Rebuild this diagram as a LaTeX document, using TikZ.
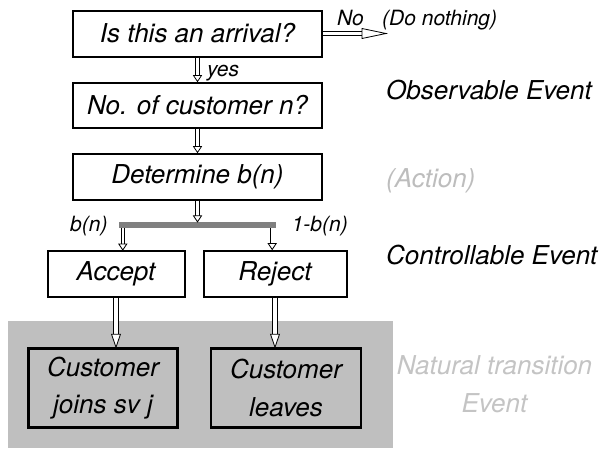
\documentclass[tikz,border=0pt]{standalone}
\usepackage{fontspec}
\setmainfont{TeX Gyre Heros}
\usetikzlibrary{calc}
\definecolor{bggray}{HTML}{BFBFBF}
\definecolor{bargray}{HTML}{808080}
\definecolor{lightlbl}{HTML}{BDBDBD}
\definecolor{natgray}{HTML}{C4C4C4}
\newcommand{\bigfont}{\fontsize{26}{37.5}\selectfont\itshape}
\newcommand{\smallfont}{\fontsize{21}{25}\selectfont\itshape}
\newcommand{\harrow}[5]{%
  \path ($(#2)!#4!(#1)$) coordinate (hb);
  \draw[hshaft, double distance=#3] (#1) -- (hb);
  \draw[hhead] (#2) -- ($(hb)!#5!90:(#2)$) -- ($(hb)!#5!-90:(#2)$) -- cycle;
}
\begin{document}
\begin{tikzpicture}[x=1pt, y=-1pt,
  hshaft/.style={line width=0.8pt, draw=black, double=white},
  hhead/.style={line width=0.8pt, draw=black, fill=white, line join=miter},
  box/.style={draw, line width=2pt, inner sep=0pt, font=\bigfont, align=center},
  cbox/.style={box, line width=2.6pt},
  big/.style={font=\bigfont, inner sep=0pt},
  small/.style={font=\smallfont, inner sep=0pt}]
\useasboundingbox (0,0) rectangle (606,450);
% background for natural transitions
\fill[bggray] (8,321) rectangle (393,448);
% main boxes
\node[box, minimum width=249pt, minimum height=46pt] (b1) at (197.5,33.5) {Is this an arrival?};
\node[box, minimum width=249pt, minimum height=45pt] (b2) at (197.5,105) {No. of customer n?};
\node[box, minimum width=249pt, minimum height=46pt] (b3) at (197.5,176.5) {Determine b(n)};
\node[fill=bargray, minimum width=157pt, minimum height=6pt, inner sep=0pt] (bar) at (197.5,225) {};
\node[box, minimum width=137pt, minimum height=46pt] (acc) at (116,274) {Accept};
\node[box, minimum width=143pt, minimum height=46pt] (rej) at (275,273.5) {Reject};
\node[cbox, minimum width=149pt, minimum height=79pt] (join) at (103,388) {Customer\\joins sv j};
\node[cbox, minimum width=150pt, minimum height=79pt] (leave) at (286,388) {Customer\\leaves};
% labels
\node[small, anchor=base west] (nolbl) at (337,25) {No};
\node[small, anchor=base west] (dolbl) at (382,25) {(Do nothing)};
\node[small, anchor=base west] (yes) at (207,76) {yes};
\node[small, anchor=base west] (bn) at (70,231) {b(n)};
\node[small, anchor=base east] (obn) at (348,231) {1-b(n)};
\node[big, anchor=base west] (obs) at (386,99) {Observable Event};
\node[big, anchor=base west, text=lightlbl] (act) at (386,187) {(Action)};
\node[big, anchor=base west] (ctl) at (386,264) {Controllable Event};
\node[big, align=center, text=natgray] (nat) at (494.5,384) {Natural transition\\Event};
% connector end points
\coordinate (noend) at ([xshift=63pt]b1.east);
\coordinate (bl) at ([xshift=4pt]bar.south west);
\coordinate (br) at ([xshift=-4pt]bar.south east);
\coordinate (al) at (bl |- acc.north);
\coordinate (ar) at (br |- rej.north);
\coordinate (ja) at (acc.south |- join.north);
\coordinate (la) at (rej.south |- leave.north);
% connectors
\harrow{b1.east}{noend}{2.6pt}{24pt}{5pt}
\harrow{b1.south}{b2.north}{2.6pt}{6pt}{4pt}
\harrow{b2.south}{b3.north}{2.6pt}{6pt}{4pt}
\harrow{b3.south}{bar.north}{2.6pt}{6pt}{4pt}
\harrow{bl}{al}{2.6pt}{6pt}{4pt}
\harrow{br}{ar}{2.6pt}{6pt}{4pt}
\harrow{acc.south}{ja}{4.8pt}{13pt}{4.5pt}
\harrow{rej.south}{la}{4.8pt}{13pt}{4.5pt}
\end{tikzpicture}
\end{document}
